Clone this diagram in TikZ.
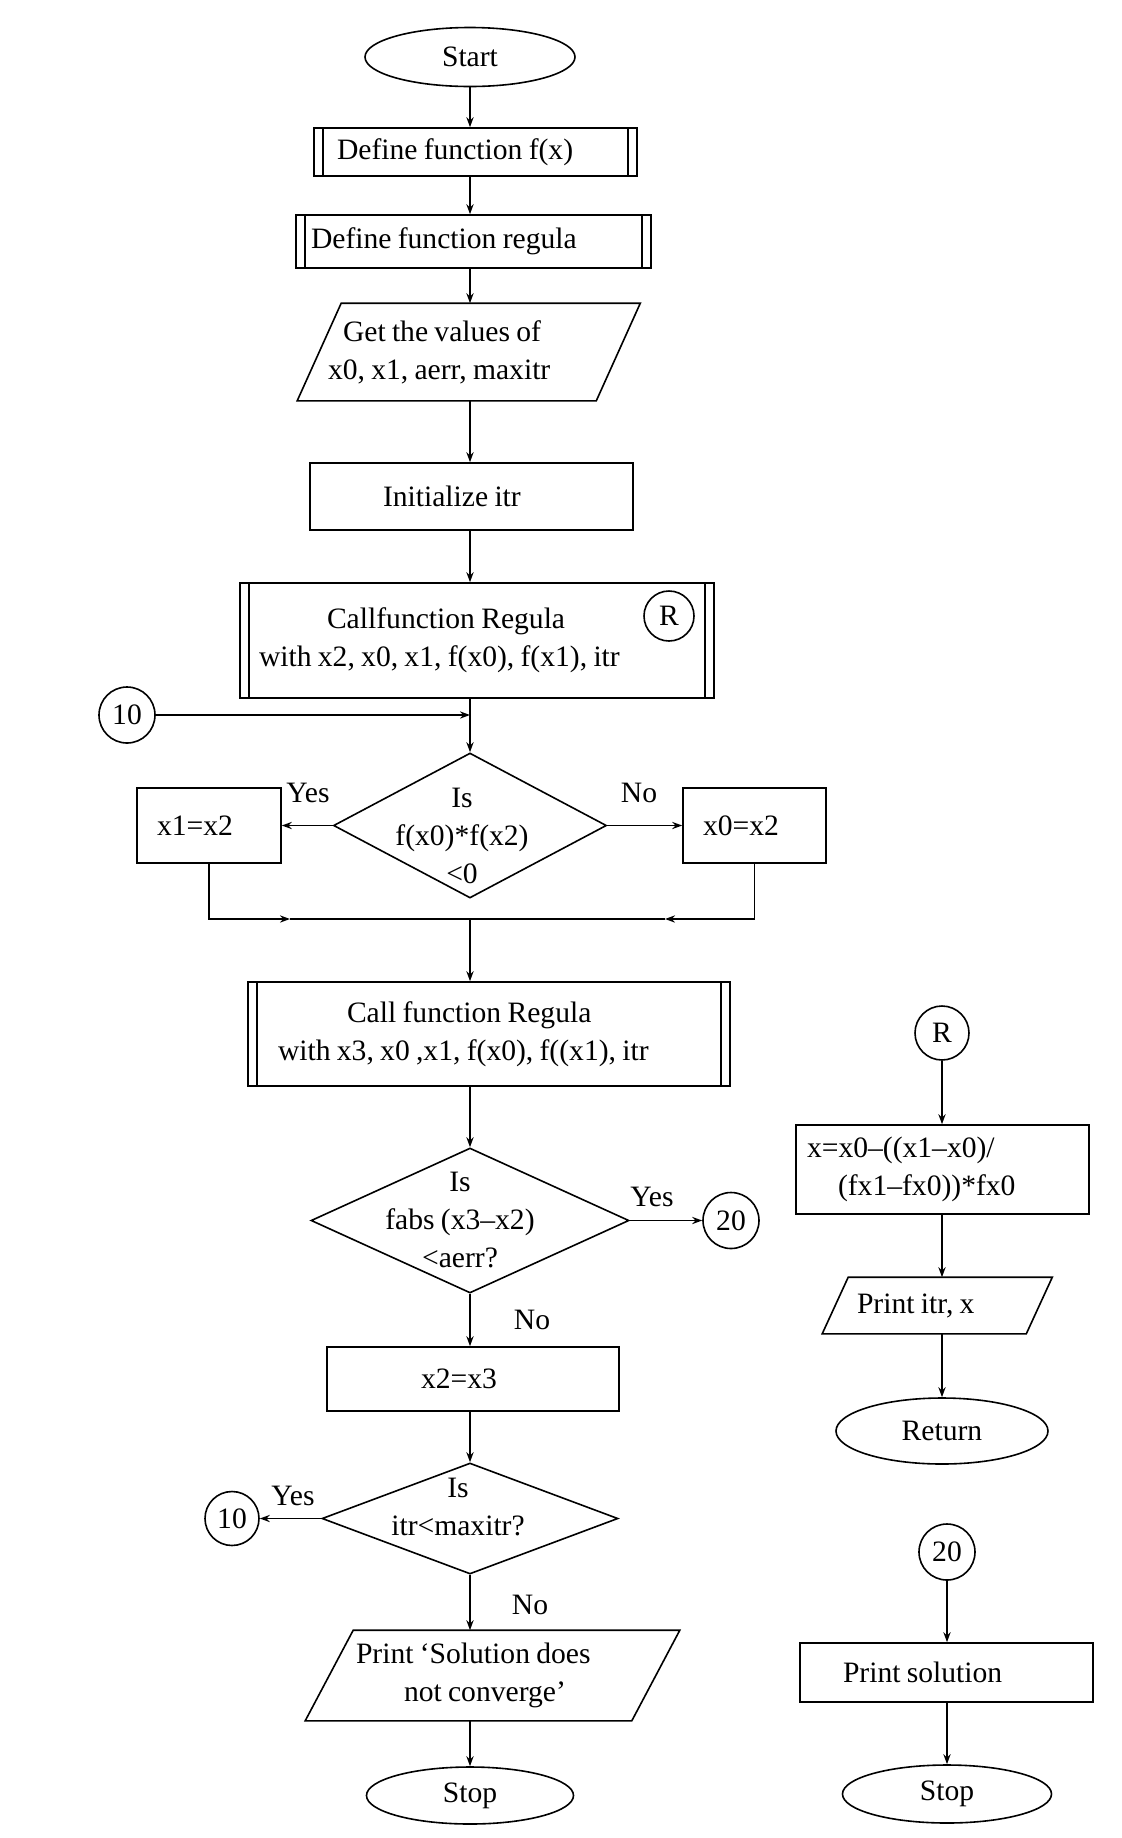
\documentclass[tikz,border=0pt]{standalone}
\usepackage{fontspec}
\setmainfont{Liberation Serif}[WordSpace=0.85]
\usetikzlibrary{shapes.geometric,arrows.meta}

\tikzset{
  arr/.style={-{Stealth[length=5pt,width=3.6pt]}},
  term/.style={ellipse, draw, inner sep=0pt},
  proc/.style={rectangle, draw, inner ysep=0pt, align=flush left},
  subproc/.style={proc, append after command={\pgfextra{
      \draw ([xshift=5pt]\tikzlastnode.north west) -- ([xshift=5pt]\tikzlastnode.south west);
      \draw ([xshift=-5pt]\tikzlastnode.north east) -- ([xshift=-5pt]\tikzlastnode.south east);}}},
  io/.style={rectangle, inner ysep=0pt, align=flush left, append after command={\pgfextra{
      \draw ([xshift=#1]\tikzlastnode.north west) -- ([xshift=#1]\tikzlastnode.north east)
        -- ([xshift=-#1]\tikzlastnode.south east) -- ([xshift=-#1]\tikzlastnode.south west) -- cycle;}}},
  decision/.style={diamond, draw, inner sep=0pt},
  conn/.style={circle, draw, inner sep=0pt, minimum size=#1},
  lbl/.style={inner sep=0pt},
  tx/.style={align=center, inner sep=0pt}
}

\begin{document}
\begin{tikzpicture}[x=0.5pt,y=-0.5pt,line width=0.8pt,
  every node/.style={font=\fontsize{14.8}{19}\selectfont}]
\useasboundingbox (0,0) rectangle (1121,1838);
\coordinate (col) at (470,0);

\node[term, minimum width=105pt, minimum height=29.5pt] (start) at (470,57) {Start};
\node[subproc, minimum height=24pt, inner xsep=11.5pt, text width=138.5pt] (deff) at (475.5,152) {Define function f(x)};
\node[subproc, minimum height=26.5pt, inner xsep=7.5pt, text width=162.5pt] (defr) at (473.5,241.5) {Define function regula};
\node[io=11pt, minimum height=48pt, inner xsep=4pt, text width=140.75pt] (getin) at (468.75,352) {\hspace*{7.5pt}Get the values of\\x0, x1, aerr, maxitr};
\node[proc, minimum height=33.5pt, inner xsep=36.5pt, text width=88.5pt] (init) at (471.5,496.5) {Initialize itr};
\node[subproc, minimum height=57.5pt, inner xsep=9.5pt, text width=218pt] (call1) at (477,640.5) {\hspace*{34pt}Callfunction Regula\\with x2, x0, x1, f(x0), f(x1), itr};
\node[conn=25pt] (rmark) at (669,616) {R};
\node[conn=28pt] (c10a) at (127,715) {10};
\coordinate (j10) at (470,715);
\node[decision, minimum width=136.5pt, minimum height=72.5pt, label={[tx, xshift=-4pt, yshift=-5pt]center:Is\\f(x0)*f(x2)\\<0}] (dec1) at (470,825.5) {};
\node[proc, minimum height=37.5pt, inner xsep=10pt, text width=52pt] (x1x2) at (209,825.5) {x1=x2};
\node[proc, minimum height=37.5pt, inner xsep=10pt, text width=51.5pt] (x0x2) at (754.5,825.5) {x0=x2};
\coordinate (mrg) at (470,919);
\coordinate (mL) at (290,919);
\coordinate (mR) at (665,919);
\node[subproc, minimum height=52pt, inner xsep=15pt, text width=211pt] (call2) at (489,1034) {\hspace*{34.5pt}Call function Regula\\with x3, x0 ,x1, f(x0), f((x1), itr};
\node[decision, minimum width=159pt, minimum height=72.5pt, label={[tx, xshift=-5pt]center:Is\\fabs (x3–x2)\\<aerr?}] (dec2) at (470,1220.5) {};
\node[conn=28pt] (c20a) at (731,1220.5) {20};
\node[proc, minimum height=32pt, inner xsep=47pt, text width=52pt] (x2x3) at (473,1379) {x2=x3};
\node[decision, minimum width=148pt, minimum height=55.5pt, label={[tx, xshift=-6pt, yshift=6pt]center:Is\\itr<maxitr?}] (dec3) at (470,1518.5) {};
\node[conn=27pt] (c10b) at (232,1518.5) {10};
\node[io=12pt, minimum height=44.5pt, inner xsep=13pt, text width=136.5pt] (prnc) at (492.5,1675.5) {Print ‘Solution does\\\hspace*{24pt}not converge’};
\node[term, minimum width=103.5pt, minimum height=28.5pt] (stop1) at (470,1795.5) {Stop};

\node[conn=27pt] (cR) at (942,1033) {R};
\node[proc, minimum height=44.5pt, inner xsep=5.5pt, text width=135.5pt] (calcx) at (942.5,1169.5) {x=x0–((x1–x0)/\\\hspace*{15.5pt}(fx1–fx0))*fx0};
\node[io=6.5pt, minimum height=27.5pt, inner xsep=10.5pt, text width=80.25pt] (prit) at (937.25,1305.5) {Print itr, x};
\node[term, minimum width=106pt, minimum height=33pt] (ret) at (942,1431) {Return};
\node[conn=28pt] (c20b) at (947,1552) {20};
\node[proc, minimum height=29.5pt, inner xsep=21.5pt, text width=103.5pt] (prsol) at (946.5,1672.5) {Print solution};
\node[term, minimum width=104.5pt, minimum height=29pt] (stop2) at (947,1794) {Stop};

\node[lbl] (yes1) at (308,793) {Yes};
\node[lbl] (no1) at (639,793) {No};
\node[lbl] (yes2) at (652,1197) {Yes};
\node[lbl] (no2) at (532,1320) {No};
\node[lbl] (yes3) at (293,1496) {Yes};
\node[lbl] (no3) at (530,1605) {No};

\draw[arr] (start) -- (deff.north -| col);
\draw[arr] (deff.south -| col) -- (defr.north -| col);
\draw[arr] (defr.south -| col) -- (getin.north -| col);
\draw[arr] (getin.south -| col) -- (init.north -| col);
\draw[arr] (init.south -| col) -- (call1.north -| col);
\draw[arr] (call1.south -| col) -- (dec1);
\draw[arr] (c10a) -- (j10);
\draw[arr] (dec1) -- (x1x2);
\draw[arr] (dec1) -- (x0x2);
\draw[arr] (x1x2) |- (mL);
\draw (mL) -- (mrg);
\draw[arr] (x0x2) |- (mR);
\draw (mR) -- (mrg);
\draw[arr] (mrg) -- (call2.north -| col);
\draw[arr] (call2.south -| col) -- (dec2);
\draw[arr] (dec2) -- (c20a);
\draw[arr] (dec2) -- (x2x3.north -| col);
\draw[arr] (x2x3.south -| col) -- (dec3);
\draw[arr] (dec3) -- (c10b);
\draw[arr] (dec3) -- (prnc.north -| col);
\draw[arr] (prnc.south -| col) -- (stop1);
\draw[arr] (cR) -- (calcx.north -| cR);
\draw[arr] (calcx.south -| cR) -- (prit.north -| cR);
\draw[arr] (prit.south -| cR) -- (ret);
\draw[arr] (c20b) -- (prsol.north -| c20b);
\draw[arr] (prsol.south -| c20b) -- (stop2);
\end{tikzpicture}
\end{document}
